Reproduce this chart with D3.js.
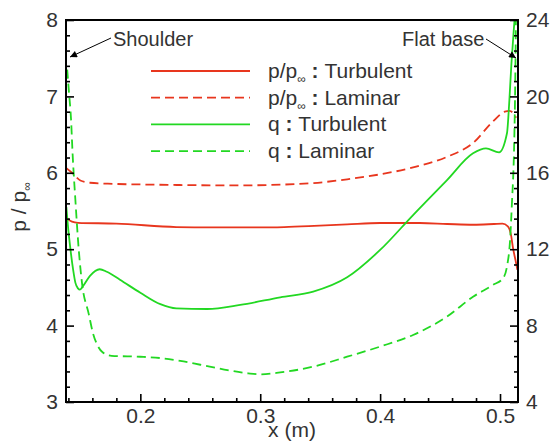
<!DOCTYPE html>
<html>
<head>
<meta charset="utf-8">
<script src="https://cdn.jsdelivr.net/npm/d3@7"></script>
<style>
  html, body { margin: 0; padding: 0; background: #fff; }
  svg text { font-family: "Liberation Sans", Arial, sans-serif; fill: #333; }
</style>
</head>
<body>
<svg id="chart" width="552" height="441"></svg>
<script>
// Axis extents and ticks
const xDomain = [0.138, 0.515];
const pDomain = [3, 8];
const qDomain = [4, 24];
const xMajor = [0.2, 0.3, 0.4, 0.5];
const pMajor = [3, 4, 5, 6, 7, 8];
const qMajor = [4, 8, 12, 16, 20, 24];

// Pressure ratio p/p∞ (left axis) along x (m)
const pTurbulent = [
  [0.1383, 5.41], [0.143, 5.36], [0.148, 5.345], [0.18, 5.335], [0.23, 5.29],
  [0.26, 5.285], [0.30, 5.285], [0.32, 5.29], [0.345, 5.305], [0.3725, 5.325],
  [0.40, 5.343], [0.433, 5.343], [0.456, 5.33], [0.478, 5.32], [0.495, 5.33],
  [0.502, 5.335], [0.5065, 5.30], [0.509, 5.2], [0.511, 5.0], [0.513, 4.85], [0.5145, 4.73]
];
const pLaminar = [
  [0.1383, 6.06], [0.143, 6.0], [0.15, 5.90], [0.158, 5.87], [0.1775, 5.855],
  [0.21, 5.845], [0.233, 5.84], [0.283, 5.835], [0.317, 5.845], [0.344, 5.865],
  [0.3725, 5.915], [0.40, 5.98], [0.4275, 6.07], [0.456, 6.21], [0.4775, 6.39],
  [0.494, 6.67], [0.504, 6.80], [0.508, 6.81], [0.511, 6.78], [0.5135, 6.72]
];

// Heat flux q (right axis) along x (m)
const qTurbulent = [
  [0.1383, 14.2], [0.1395, 13.3], [0.1417, 12.0], [0.144, 10.9], [0.1458, 10.25],
  [0.148, 9.95], [0.1495, 9.88], [0.152, 10.05], [0.158, 10.6], [0.1661, 10.95],
  [0.172, 10.82], [0.183, 10.4], [0.20, 9.72], [0.2167, 9.12], [0.23, 8.9],
  [0.2558, 8.87], [0.2833, 9.08], [0.3167, 9.48], [0.3442, 9.78], [0.3725, 10.53],
  [0.40, 11.96], [0.4275, 13.79], [0.4558, 15.62], [0.4775, 17.02], [0.4883, 17.28],
  [0.4992, 17.07], [0.5058, 18.07], [0.5078, 19.8], [0.5095, 21.7], [0.5115, 23.5], [0.5125, 24.3]
];
const qLaminar = [
  [0.139, 21.4], [0.1405, 20.2], [0.1422, 18.8], [0.1435, 17.0], [0.1458, 14.6],
  [0.1486, 12.0], [0.1514, 10.2], [0.157, 8.6], [0.1605, 7.6], [0.164, 7.0],
  [0.1685, 6.6], [0.176, 6.42], [0.20, 6.37], [0.2167, 6.3], [0.2333, 6.15],
  [0.25, 5.95], [0.27, 5.7], [0.29, 5.5], [0.30, 5.45], [0.3167, 5.55],
  [0.3442, 5.85], [0.3725, 6.37], [0.40, 6.9], [0.4275, 7.51], [0.4558, 8.47],
  [0.4775, 9.51], [0.4942, 10.13], [0.5025, 10.48], [0.5058, 11.09], [0.5083, 12.4],
  [0.51, 14.5], [0.5117, 17.2], [0.5125, 19.8], [0.5133, 24.2]
];

const RED = "#e8361e";
const GREEN = "#22d822";
const DASH = "9,5";

const svg = d3.select("#chart");
const plotLeft = 66, plotRight = 518, plotTop = 20, plotBottom = 402;

const x = d3.scaleLinear().domain(xDomain).range([plotLeft, plotRight]);
const yP = d3.scaleLinear().domain(pDomain).range([plotBottom, plotTop]);
const yQ = d3.scaleLinear().domain(qDomain).range([plotBottom, plotTop]);

const defs = svg.append("defs");
defs.append("clipPath").attr("id", "plotClip")
  .append("rect").attr("x", plotLeft).attr("y", plotTop)
  .attr("width", plotRight - plotLeft).attr("height", plotBottom - plotTop);

// Curves
const series = [
  { data: pTurbulent, y: yP, color: RED, dash: null },
  { data: pLaminar, y: yP, color: RED, dash: DASH },
  { data: qTurbulent, y: yQ, color: GREEN, dash: null },
  { data: qLaminar, y: yQ, color: GREEN, dash: DASH }
];
const plot = svg.append("g").attr("clip-path", "url(#plotClip)");
series.forEach(s => {
  const line = d3.line().x(d => x(d[0])).y(d => s.y(d[1])).curve(d3.curveMonotoneX);
  plot.append("path").datum(s.data)
    .attr("d", line)
    .attr("fill", "none")
    .attr("stroke", s.color)
    .attr("stroke-width", 1.8)
    .attr("stroke-dasharray", s.dash);
});

// Minor tick values
const xMinor = d3.range(0.14, 0.5151, 0.02).filter(v => !xMajor.some(m => Math.abs(m - v) < 1e-6));
const pMinor = d3.range(3, 8.0001, 0.2).filter(v => Math.abs(v - Math.round(v)) > 1e-6);
const qMinor = d3.range(4, 24.0001, 0.8).filter(v => Math.abs(v / 4 - Math.round(v / 4)) > 1e-6);

function styleAxis(g) {
  g.select(".domain").remove();
  g.selectAll("line").attr("stroke", "#000").attr("stroke-width", 1.6);
  g.selectAll("text").attr("font-size", 21).attr("fill", "#333")
    .style("font-family", "'Liberation Sans', Arial, sans-serif");
}

// Bottom axis
svg.append("g").attr("transform", `translate(0,${plotBottom})`)
  .call(d3.axisBottom(x).tickValues(xMinor).tickSize(-4).tickFormat(""))
  .call(styleAxis);
svg.append("g").attr("transform", `translate(0,${plotBottom})`)
  .call(d3.axisBottom(x).tickValues(xMajor).tickSize(-8).tickPadding(6).tickFormat(d3.format(".1f")))
  .call(styleAxis);

// Left axis
svg.append("g").attr("transform", `translate(${plotLeft},0)`)
  .call(d3.axisLeft(yP).tickValues(pMinor).tickSize(-4).tickFormat(""))
  .call(styleAxis);
svg.append("g").attr("transform", `translate(${plotLeft},0)`)
  .call(d3.axisLeft(yP).tickValues(pMajor).tickSize(-8).tickPadding(8).tickFormat(d3.format("d")))
  .call(styleAxis);

// Right axis
svg.append("g").attr("transform", `translate(${plotRight},0)`)
  .call(d3.axisRight(yQ).tickValues(qMinor).tickSize(-4).tickFormat(""))
  .call(styleAxis);
svg.append("g").attr("transform", `translate(${plotRight},0)`)
  .call(d3.axisRight(yQ).tickValues(qMajor).tickSize(-8).tickPadding(8).tickFormat(d3.format("d")))
  .call(styleAxis);

// Frame
svg.append("rect").attr("x", plotLeft).attr("y", plotTop)
  .attr("width", plotRight - plotLeft).attr("height", plotBottom - plotTop)
  .attr("fill", "none").attr("stroke", "#000").attr("stroke-width", 2);

// Axis titles
svg.append("text").attr("x", (plotLeft + plotRight) / 2).attr("y", 437)
  .attr("text-anchor", "middle").attr("font-size", 21).text("x (m)");

const yTitle = svg.append("text")
  .attr("transform", "translate(26,207) rotate(-90)")
  .attr("text-anchor", "middle").attr("font-size", 21);
yTitle.append("tspan").text("p / p");
yTitle.append("tspan").attr("font-size", 12).attr("dy", 5).text("∞");

// Legend
const legendItems = [
  { name: "p/p", sub: "∞", kind: "Turbulent", color: RED, dash: null },
  { name: "p/p", sub: "∞", kind: "Laminar", color: RED, dash: DASH },
  { name: "q", sub: null, kind: "Turbulent", color: GREEN, dash: null },
  { name: "q", sub: null, kind: "Laminar", color: GREEN, dash: DASH }
];
const legend = svg.append("g");
legendItems.forEach((d, i) => {
  const yRow = 71 + i * 26.7;
  legend.append("line")
    .attr("x1", 151).attr("x2", 250).attr("y1", yRow).attr("y2", yRow)
    .attr("stroke", d.color).attr("stroke-width", 1.8)
    .attr("stroke-dasharray", d.dash);
  const t = legend.append("text").attr("x", 268).attr("y", yRow + 7).attr("font-size", 21);
  t.append("tspan").text(d.name);
  if (d.sub) {
    t.append("tspan").attr("font-size", 12).attr("dy", 5).text(d.sub);
    t.append("tspan").attr("dy", -5).attr("font-weight", "bold").text(" : ");
  } else {
    t.append("tspan").attr("font-weight", "bold").text(" : ");
  }
  t.append("tspan").text(d.kind);
});

// Annotations with arrows
defs.append("marker")
  .attr("id", "arrowHead").attr("viewBox", "0 0 10 10")
  .attr("refX", 10).attr("refY", 5)
  .attr("markerWidth", 14).attr("markerHeight", 7)
  .attr("markerUnits", "userSpaceOnUse")
  .attr("orient", "auto")
  .append("path").attr("d", "M0,0 L10,5 L0,10 Z").attr("fill", "#000");

svg.append("line").attr("x1", 111).attr("y1", 38).attr("x2", 70).attr("y2", 57)
  .attr("stroke", "#000").attr("stroke-width", 1).attr("marker-end", "url(#arrowHead)");
svg.append("text").attr("x", 113).attr("y", 46).attr("font-size", 20).text("Shoulder");

svg.append("line").attr("x1", 486).attr("y1", 39).attr("x2", 516).attr("y2", 58)
  .attr("stroke", "#000").attr("stroke-width", 1).attr("marker-end", "url(#arrowHead)");
svg.append("text").attr("x", 402).attr("y", 46).attr("font-size", 20).text("Flat base");
</script>
</body>
</html>
